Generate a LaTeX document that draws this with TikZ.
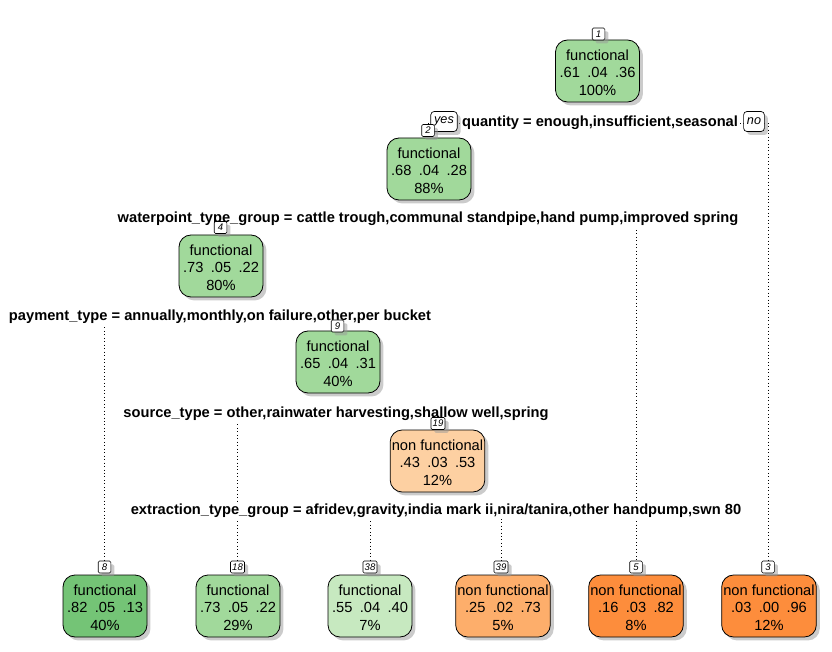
\documentclass[tikz,border=0pt]{standalone}
\usepackage{fontspec}
\setmainfont{Liberation Sans}
\usetikzlibrary{shadows,backgrounds}
\definecolor{gmid}{HTML}{A1D99B}
\definecolor{gdark}{HTML}{74C476}
\definecolor{glight}{HTML}{C7E9C0}
\definecolor{olight}{HTML}{FDD0A2}
\definecolor{omid}{HTML}{FDAE6B}
\definecolor{odark}{HTML}{FD8D3C}
\newcommand{\mygap}{\hspace{5.5pt}}
\newcommand{\tn}[3]{\raisebox{-2.6pt}[\height][\depth]{\begin{tabular}{@{}c@{}}#1\\#2\\#3\end{tabular}}}
\tikzset{
  shad/.style={drop shadow={shadow xshift=2.6pt,shadow yshift=-2.6pt,fill=black!40,opacity=0.5}},
  tnode/.style={draw=black, line width=0.6pt, rounded corners=9pt, minimum height=46.5pt,
    font=\fontsize{11}{13}\selectfont, inner sep=0pt, shad},
  fnode/.style={tnode, minimum width=63pt},
  nfnode/.style={tnode, minimum width=71pt},
  numbox/.style={draw, fill=white, line width=0.5pt, rounded corners=1pt,
    font=\fontsize{7.2}{8}\selectfont\itshape, inner sep=1.3pt, minimum height=9pt, minimum width=9.5pt, shad},
  ynbox/.style={draw, fill=white, line width=0.5pt, rounded corners=2.5pt,
    font=\fontsize{9.5}{10}\selectfont\itshape, inner xsep=2.5pt, inner ysep=2pt, minimum height=15pt, shad},
  splitlbl/.style={fill=white, font=\fontsize{11}{13}\selectfont\bfseries, inner sep=1pt},
  conn/.style={dotted, line width=0.6pt},
}
\begin{document}
\begin{tikzpicture}[x=0.75pt,y=-0.75pt]
\useasboundingbox (0,0) rectangle (832,652);

% split labels
\node[splitlbl] (s1) at (600,123) {quantity = enough,insufficient,seasonal};
\node[splitlbl] (s2) at (428,219) {waterpoint\_type\_group = cattle trough,communal standpipe,hand pump,improved spring};
\node[splitlbl] (s4) at (220,317) {payment\_type = annually,monthly,on failure,other,per bucket};
\node[splitlbl] (s9) at (336,414) {source\_type = other,rainwater harvesting,shallow well,spring};
\node[splitlbl] (s19) at (436,511) {extraction\_type\_group = afridev,gravity,india mark ii,nira/tanira,other handpump,swn 80};

\node[ynbox] (yes) at (444,121.5) {yes};
\node[ynbox] (no) at (754,121.5) {no};

% tree nodes
\node[fnode, fill=gmid] (n1) at (597.5,71) {\tn{functional}{.61\mygap.04\mygap.36}{100\%}};
\node[fnode, fill=gmid] (n2) at (429,169) {\tn{functional}{.68\mygap.04\mygap.28}{88\%}};
\node[fnode, fill=gmid] (n4) at (221,266) {\tn{functional}{.73\mygap.05\mygap.22}{80\%}};
\node[fnode, fill=gmid] (n9) at (338,362) {\tn{functional}{.65\mygap.04\mygap.31}{40\%}};
\node[nfnode, fill=olight] (n19) at (437.5,461) {\tn{non functional}{.43\mygap.03\mygap.53}{12\%}};

\node[fnode, fill=gdark] (n8) at (105,606) {\tn{functional}{.82\mygap.05\mygap.13}{40\%}};
\node[fnode, fill=gmid] (n18) at (238,606) {\tn{functional}{.73\mygap.05\mygap.22}{29\%}};
\node[fnode, fill=glight] (n38) at (370,606) {\tn{functional}{.55\mygap.04\mygap.40}{7\%}};
\node[nfnode, fill=omid] (n39) at (503,606) {\tn{non functional}{.25\mygap.02\mygap.73}{5\%}};
\node[nfnode, fill=odark] (n5) at (636,606) {\tn{non functional}{.16\mygap.03\mygap.82}{8\%}};
\node[nfnode, fill=odark] (n3) at (769,606) {\tn{non functional}{.03\mygap.00\mygap.96}{12\%}};

% number boxes
\node[numbox] (nb1) at (598.5,34) {1};
\node[numbox] (nb2) at (428,130.5) {2};
\node[numbox] (nb4) at (220.5,227.5) {4};
\node[numbox] (nb9) at (337.5,326) {9};
\node[numbox] (nb19) at (438,423.5) {19};
\node[numbox] (nb8) at (104.5,567) {8};
\node[numbox] (nb18) at (237.5,567) {18};
\node[numbox] (nb38) at (370,567) {38};
\node[numbox] (nb39) at (501,567) {39};
\node[numbox] (nb5) at (636,567) {5};
\node[numbox] (nb3) at (768,567) {3};

% connectors
\begin{scope}[on background layer]
\fill[white] (0,0) rectangle (832,652);
\draw[conn] (nb2 |- s1) -- (nb3 |- s1) -- (nb3.north);
\draw[conn] (nb2 |- s1) -- (nb2.north);
\draw[conn] (nb4 |- s2) -- (nb5 |- s2) -- (nb5.north);
\draw[conn] (nb4 |- s2) -- (nb4.north);
\draw[conn] (nb8 |- s4) -- (nb9 |- s4) -- (nb9.north);
\draw[conn] (nb8 |- s4) -- (nb8.north);
\draw[conn] (nb18 |- s9) -- (nb19 |- s9) -- (nb19.north);
\draw[conn] (nb18 |- s9) -- (nb18.north);
\draw[conn] (nb38 |- s19) -- (nb39 |- s19) -- (nb39.north);
\draw[conn] (nb38 |- s19) -- (nb38.north);
\end{scope}
\end{tikzpicture}
\end{document}
